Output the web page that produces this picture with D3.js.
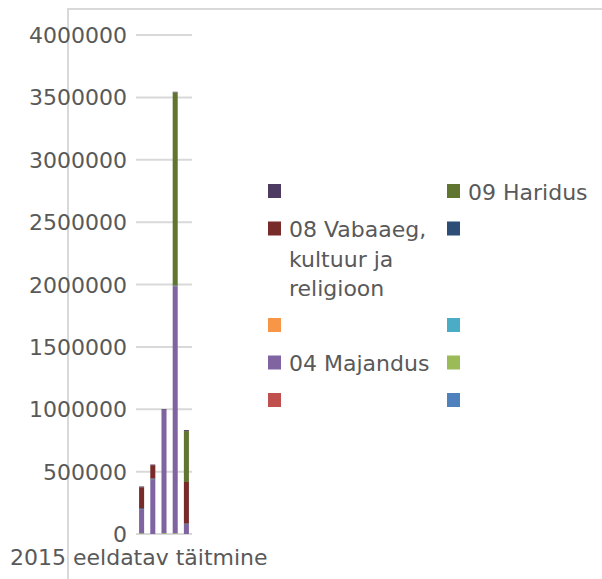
<!DOCTYPE html>
<html>
<head>
<meta charset="utf-8">
<script src="https://cdn.jsdelivr.net/npm/d3@7"></script>
<style>
  body { margin: 0; background: #fff; }
  text { font-family: "DejaVu Sans", sans-serif; fill: #595959; }
</style>
</head>
<body>
<svg id="chart" width="602" height="579"></svg>
<script>
// one category, five stacked bars inside it
var category = "2015 eeldatav täitmine";
var bars = ["b1", "b2", "b3", "b4", "b5"];

var seriesNames = ["", "", "", "04 Majandus", "", "", "", "08 Vabaaeg, kultuur ja religioon", "09 Haridus", ""];
var seriesColors = ["#4F81BD", "#C0504D", "#9BBB59", "#8064A2", "#4BACC6", "#F79646", "#2C4D75", "#772C2A", "#5F7530", "#4D3B62"];

var s1 = [0, 0, 0, 0, 0];
var s2 = [0, 0, 0, 0, 0];
var s3 = [6000, 0, 6000, 6000, 0];
var s4 = [193000, 437000, 989000, 1980000, 75000];
var s5 = [0, 0, 0, 0, 0];
var s6 = [0, 0, 0, 0, 0];
var s7 = [8000, 8000, 0, 5000, 8000];
var s8 = [168000, 107000, 0, 0, 334000];
var s9 = [0, 0, 0, 1549000, 408000];
var s10 = [6000, 5000, 6000, 5000, 8000];
var seriesValues = [s1, s2, s3, s4, s5, s6, s7, s8, s9, s10];

var yTicks = [0, 500000, 1000000, 1500000, 2000000, 2500000, 3000000, 3500000, 4000000];

var svg = d3.select("#chart");

// outer chart frame, cut off by the window on the right and bottom
svg.append("rect")
    .attr("x", 68).attr("y", 9)
    .attr("width", 700).attr("height", 700)
    .attr("fill", "none")
    .attr("stroke", "#d9d9d9")
    .attr("stroke-width", 2);

var x = d3.scaleBand().domain(bars).range([136, 192]).paddingInner(0.55).paddingOuter(0.275);
var y = d3.scaleLinear().domain([0, 4000000]).range([534, 35]);

// gridlines
svg.append("g").selectAll("line")
    .data(yTicks)
  .enter().append("line")
    .attr("x1", 136).attr("x2", 192)
    .attr("y1", function(d) { return y(d); })
    .attr("y2", function(d) { return y(d); })
    .attr("stroke", "#d9d9d9")
    .attr("stroke-width", 2);

// y labels
svg.append("g").selectAll("text")
    .data(yTicks)
  .enter().append("text")
    .attr("x", 127)
    .attr("y", function(d) { return y(d) + 8; })
    .attr("text-anchor", "end")
    .style("font-size", "22px")
    .text(function(d) { return d; });

// stacked bars
var rows = bars.map(function(b, i) {
  var r = { bar: b };
  seriesValues.forEach(function(vals, k) { r["s" + k] = vals[i]; });
  return r;
});
var keys = seriesValues.map(function(v, k) { return "s" + k; });
var stacked = d3.stack().keys(keys)(rows);

svg.append("g").selectAll("g")
    .data(stacked)
  .enter().append("g")
    .attr("fill", function(d, k) { return seriesColors[k]; })
  .selectAll("rect")
    .data(function(d) { return d; })
  .enter().append("rect")
    .attr("x", function(d) { return x(d.data.bar); })
    .attr("width", x.bandwidth())
    .attr("y", function(d) { return y(d[1]); })
    .attr("height", function(d) { return y(d[0]) - y(d[1]); });

// category label
svg.append("text")
    .attr("x", 10).attr("y", 565)
    .style("font-size", "22px")
    .text(category);

// legend: reversed series, two columns, row by row
var legendOrder = d3.range(seriesNames.length).reverse();
var colX = [268, 447];
var rowY = 191;
var lineH = 29.5, rowGap = 37.5;

for (var r = 0; r < legendOrder.length; r += 2) {
  var maxLines = 1;
  for (var c = 0; c < 2; c++) {
    var k = legendOrder[r + c];
    if (k === undefined) continue;
    var item = svg.append("g");
    item.append("rect")
        .attr("x", colX[c]).attr("y", rowY - 7)
        .attr("width", 13).attr("height", 14)
        .attr("fill", seriesColors[k]);
    var t = item.append("text")
        .attr("x", colX[c] + 21)
        .attr("y", rowY + 8.5)
        .style("font-size", "22px");
    // wrap long names
    var words = seriesNames[k].split(" "), line = [], lines = 0;
    var tspan = t.append("tspan").attr("x", colX[c] + 21).attr("dy", 0);
    words.forEach(function(w) {
      line.push(w);
      tspan.text(line.join(" "));
      if (tspan.node().getComputedTextLength() > 150 && line.length > 1) {
        line.pop();
        tspan.text(line.join(" "));
        line = [w];
        lines++;
        tspan = t.append("tspan").attr("x", colX[c] + 21).attr("dy", lineH).text(w);
      }
    });
    maxLines = Math.max(maxLines, lines + 1);
  }
  rowY += rowGap + (maxLines - 1) * lineH;
}
</script>
</body>
</html>
